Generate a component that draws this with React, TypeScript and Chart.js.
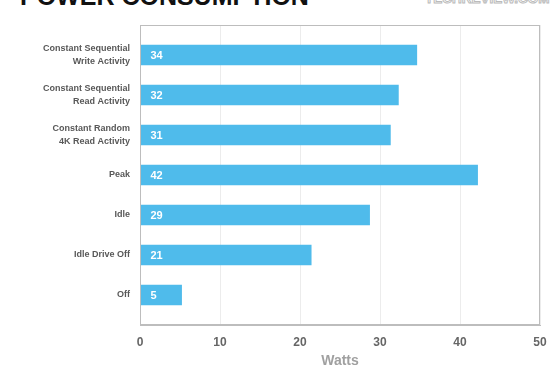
import React, { useEffect, useRef } from "react";
import { Chart, registerables } from "chart.js";

Chart.register(...registerables);

const categories: string[][] = [
  ["Constant Sequential", "Write Activity"],
  ["Constant Sequential", "Read Activity"],
  ["Constant Random", "4K Read Activity"],
  ["Peak"],
  ["Idle"],
  ["Idle Drive Off"],
  ["Off"],
];
const watts: number[] = [34.6, 32.3, 31.3, 42.2, 28.7, 21.4, 5.2];
const valueLabels: string[] = ["34", "32", "31", "42", "29", "21", "5"];
const xTicks: number[] = [0, 10, 20, 30, 40, 50];
const titleText = "POWER CONSUMPTION";
const logoText = "TECHREVIEW.COM";
const axisTitle = "Watts";

const FONT = "'Liberation Sans', Arial, Helvetica, sans-serif";

const framePlugin = {
  id: "frame",
  afterDraw(chart: any) {
    const { ctx, chartArea } = chart;
    ctx.save();
    ctx.strokeStyle = "#bdbdbd";
    ctx.lineWidth = 1;
    ctx.strokeRect(
      Math.round(chartArea.left) + 0.5,
      Math.round(chartArea.top) + 0.5,
      Math.round(chartArea.right - chartArea.left) - 1,
      Math.round(chartArea.bottom - chartArea.top) - 1
    );
    ctx.restore();
  },
};

const valueLabelPlugin = {
  id: "valueLabels",
  afterDatasetsDraw(chart: any) {
    const { ctx } = chart;
    const meta = chart.getDatasetMeta(0);
    ctx.save();
    ctx.fillStyle = "#ffffff";
    ctx.font = `bold 11px ${FONT}`;
    ctx.textBaseline = "middle";
    ctx.textAlign = "left";
    meta.data.forEach((bar: any, i: number) => {
      ctx.fillText(valueLabels[i], bar.base + 10, bar.y + 0.5);
    });
    ctx.restore();
  },
};

export default function App() {
  const ref = useRef<HTMLCanvasElement | null>(null);

  useEffect(() => {
    if (!ref.current) return;
    const chart = new Chart(ref.current, {
      type: "bar",
      data: {
        datasets: [
          {
            data: watts.map((v, i) => ({ x: v, y: i })),
            backgroundColor: "#4fbbeb",
            borderWidth: 0,
            barThickness: 20,
          },
        ],
      },
      options: {
        indexAxis: "y",
        animation: false,
        responsive: false,
        maintainAspectRatio: false,
        layout: { padding: { top: 25, right: 20, left: 0, bottom: 20 } },
        plugins: {
          legend: { display: false },
          tooltip: { enabled: false },
        },
        scales: {
          x: {
            type: "linear",
            min: 0,
            max: 50,
            bounds: "data",
            offset: false,
            afterBuildTicks(scale: any) {
              scale.ticks = xTicks.map((v) => ({ value: v }));
            },
            afterFit(scale: any) {
              scale.height = 45;
            },
            grid: { color: "#ececec", drawTicks: false, lineWidth: 1, offset: false },
            border: { display: true, color: "#bdbdbd" },
            ticks: {
              padding: 10,
              color: "#666666",
              font: { family: FONT, size: 12, weight: "bold" },
            },
            title: {
              display: true,
              text: axisTitle,
              color: "#a0a0a0",
              font: { family: FONT, size: 14, weight: "bold" },
              padding: { top: 0, bottom: 0 },
            },
          },
          y: {
            type: "linear",
            min: -0.75,
            max: 6.75,
            bounds: "data",
            offset: false,
            reverse: true,
            afterBuildTicks(scale: any) {
              scale.ticks = categories.map((_, i) => ({ value: i }));
            },
            afterFit(scale: any) {
              scale.width = 140;
            },
            grid: { display: false, drawTicks: false, offset: false },
            border: { display: true, color: "#bdbdbd" },
            ticks: {
              padding: 10,
              color: "#585858",
              font: { family: FONT, size: 9, weight: "bold", lineHeight: 1.45 },
              callback: (v: any) => categories[v as number] ?? "",
            },
          },
        },
      },
      plugins: [framePlugin, valueLabelPlugin],
    } as any);
    return () => chart.destroy();
  }, []);

  return (
    <div style={{ position: "fixed", left: 0, top: 0, width: 560, height: 390, overflow: "hidden", background: "#fff" }}>
      <div
        style={{
          position: "absolute",
          left: 20,
          top: -18,
          fontFamily: FONT,
          fontWeight: "bold",
          fontSize: 25,
          color: "#111",
          whiteSpace: "nowrap",
        }}
      >
        {titleText}
      </div>
      <div
        style={{
          position: "absolute",
          left: 425,
          top: -9,
          fontFamily: FONT,
          fontWeight: "bold",
          fontSize: 13.5,
          color: "#fff",
          WebkitTextStroke: "1px #bbbbbb",
          whiteSpace: "nowrap",
        }}
      >
        {logoText}
      </div>
      <canvas ref={ref} width={560} height={390} style={{ position: "absolute", left: 0, top: 0 }} />
    </div>
  );
}
